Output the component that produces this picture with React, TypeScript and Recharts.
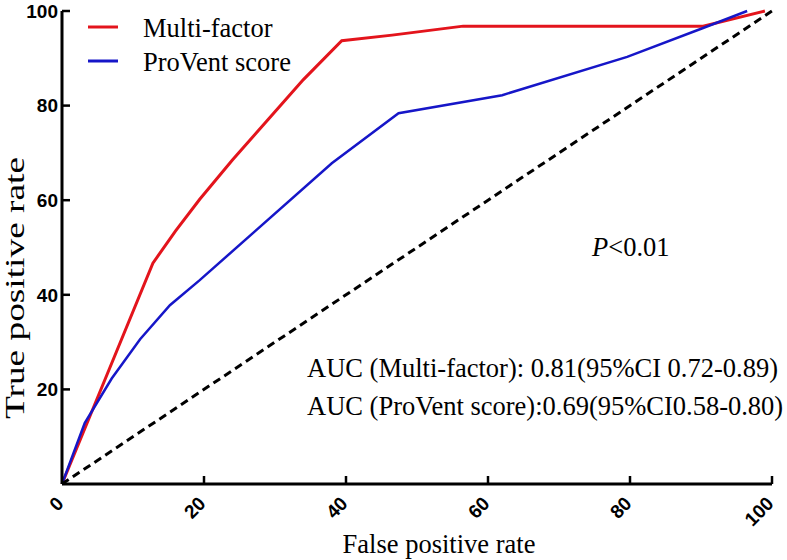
import { LineChart, Line, XAxis, YAxis, Legend } from "recharts";

document.body.style.margin = "0";

// ROC points (false positive rate / true positive rate, %)
const multiFactorFpr = [0, 12.8, 16, 19.4, 24, 29, 34, 39.4, 46.5, 56.5, 90.3, 99];
const multiFactorTpr = [0, 46.7, 53.5, 60.2, 68.5, 77, 85.5, 93.7, 94.9, 96.8, 96.8, 100];
const proVentFpr = [0, 3.2, 7, 11, 15.2, 19.4, 38, 47.4, 62, 79.6, 90.3, 96.5];
const proVentTpr = [0, 12.9, 22.3, 30.6, 37.8, 43.1, 67.8, 78.4, 82.2, 90.3, 96.4, 100];
const referenceFpr = [0, 100];
const referenceTpr = [0, 100];

const xTicks = [0, 20, 40, 60, 80, 100];
const yTicks = [20, 40, 60, 80, 100];

const SERIF = "'Liberation Serif', 'Times New Roman', serif";
const SANS = "'Liberation Sans', Arial, sans-serif";

const toPoints = (xs: number[], ys: number[]) => xs.map((x, i) => ({ fpr: x, tpr: ys[i] }));

const multiFactor = toPoints(multiFactorFpr, multiFactorTpr);
const proVent = toPoints(proVentFpr, proVentTpr);
const reference = toPoints(referenceFpr, referenceTpr);

const YTick = ({ x, y, payload }: any) => (
  <g>
    <line x1={x} x2={x + 8} y1={y} y2={y} stroke="#000" strokeWidth={2.5} />
    <text x={x - 4} y={y} dy="0.36em" textAnchor="end" fontFamily={SANS} fontWeight="bold" fontSize={19} fill="#000">
      {payload.value}
    </text>
  </g>
);

const XTick = ({ x, y, payload }: any) => (
  <g>
    {payload.value !== 0 && <line x1={x} x2={x} y1={y} y2={y - 8} stroke="#000" strokeWidth={2.5} />}
    <text
      transform={`translate(${x - 2},${y + 16}) rotate(-45)`}
      dy="0.36em"
      textAnchor="end"
      fontFamily={SANS}
      fontWeight="bold"
      fontSize={19}
      fill="#000"
    >
      {payload.value}
    </text>
  </g>
);

const renderLegend = ({ payload }: any) => (
  <svg width={260} height={80}>
    {(payload || [])
      .filter((entry: any) => entry.type !== "none")
      .map((entry: any, i: number) => (
        <g key={entry.value} transform={`translate(0, ${i * 34})`}>
          <line x1={8} x2={38} y1={19} y2={19} stroke={entry.color} strokeWidth={3} />
          <text x={63} y={29} fontFamily={SERIF} fontSize={26.5} fill="#000">
            {entry.value}
          </text>
        </g>
      ))}
  </svg>
);

export default function App() {
  return (
    <div style={{ position: "relative", width: 787, height: 560, background: "#fff" }}>
      <LineChart width={787} height={560} margin={{ top: 11, right: 15, left: 0, bottom: 0 }}>
        <XAxis
          type="number"
          dataKey="fpr"
          domain={[0, 100]}
          ticks={xTicks}
          height={76}
          tickSize={0}
          tickMargin={0}
          tickLine={false}
          axisLine={{ stroke: "#000", strokeWidth: 3 }}
          tick={<XTick />}
          interval={0}
        />
        <YAxis
          type="number"
          domain={[0, 100]}
          ticks={yTicks}
          width={62}
          tickSize={0}
          tickMargin={0}
          tickLine={false}
          axisLine={{ stroke: "#000", strokeWidth: 3 }}
          tick={<YTick />}
          interval={0}
        />
        <Legend
          layout="vertical"
          align="center"
          verticalAlign="middle"
          content={renderLegend}
          wrapperStyle={{ top: 8, left: 80, width: 260, height: 80 }}
        />
        <Line
          data={multiFactor}
          dataKey="tpr"
          name="Multi-factor"
          type="linear"
          stroke="#e3141c"
          strokeWidth={3}
          dot={false}
          isAnimationActive={false}
        />
        <Line
          data={proVent}
          dataKey="tpr"
          name="ProVent score"
          type="linear"
          stroke="#1616c8"
          strokeWidth={2.5}
          dot={false}
          isAnimationActive={false}
        />
        <Line
          data={reference}
          dataKey="tpr"
          name="Reference"
          type="linear"
          stroke="#000"
          strokeWidth={3}
          strokeDasharray="8 5"
          dot={false}
          legendType="none"
          isAnimationActive={false}
        />
      </LineChart>
      <svg width={787} height={560} style={{ position: "absolute", left: 0, top: 0, pointerEvents: "none" }}>
        <g fontFamily={SERIF} fontSize={26.5} fill="#000">
          <text x={592} y={256}>
            <tspan fontStyle="italic">P</tspan>
            {"<0.01"}
          </text>
          <text x={307} y={377}>AUC (Multi-factor): 0.81(95%CI 0.72-0.89)</text>
          <text x={307} y={415}>AUC (ProVent score):0.69(95%CI0.58-0.80)</text>
          <text x={439} y={553} textAnchor="middle">False positive rate</text>
          <text
            transform="translate(24,288) rotate(-90)"
            textAnchor="middle"
            textLength={262}
            lengthAdjust="spacingAndGlyphs"
          >
            True positive rate
          </text>
        </g>
      </svg>
    </div>
  );
}
